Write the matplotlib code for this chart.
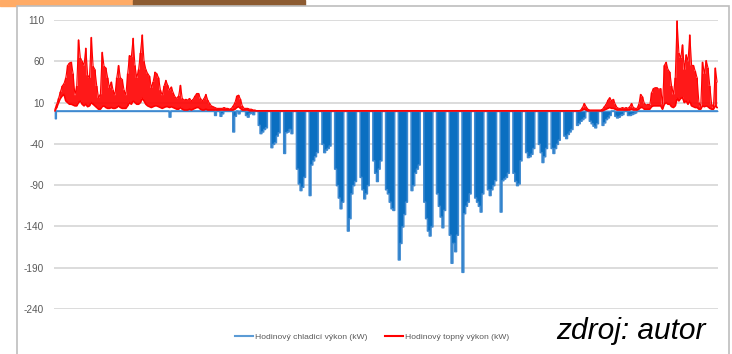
import numpy as np
import matplotlib.pyplot as plt
from matplotlib.patches import Rectangle
from matplotlib.lines import Line2D

plt.rcParams['axes.unicode_minus'] = False

# Hourly loads summarised per day (Mon-Sun rows, year starts on Monday).
# cooling = daily peak of cooling power (kW, negative), weekends are off
cooling_weeks = [
    [-9, 0, 0, 0, 0, 0, 0], [0, 0, 0, 0, 0, 0, 0], [0, 0, 0, 0, 0, 0, 0],
    [0, 0, 0, 0, 0, 0, 0], [0, 0, 0, 0, 0, 0, 0], [0, 0, 0, 0, 0, 0, 0],
    [0, 0, 0, 0, 0, 0, 0], [0, 0, 0, 0, 0, 0, 0], [0, 0, 0, 0, 0, 0, 0],
    [-7, 0, 0, 0, 0, 0, 0], [0, 0, 0, 0, 0, 0, 0], [0, 0, 0, 0, 0, 0, 0],
    [0, 0, 0, 0, -5, 0, 0], [-6, -3, 0, 0, 0, 0, 0], [-25, -6, 0, -3, 0, 0, 0],
    [-5, -7, -3, -2, -4, 0, 0], [-17, -27, -25, -22, -20, 0, 0],
    [-44, -40, -38, -30, -26, 0, 0], [-51, -26, -25, -22, -27, 0, 0],
    [-70, -88, -96, -92, -80, 0, 0], [-102, -65, -60, -55, -50, 0, 0],
    [-40, -50, -47, -45, -42, 0, 0], [-70, -90, -105, -118, -110, 0, 0],
    [-145, -130, -100, -90, -85, 0, 0], [-80, -95, -106, -100, -90, 0, 0],
    [-60, -75, -85, -70, -60, 0, 0], [-95, -100, -110, -118, -120, 0, 0],
    [-180, -160, -140, -125, -110, 0, 0], [-96, -90, -75, -70, -65, 0, 0],
    [-110, -130, -145, -151, -140, 0, 0], [-100, -115, -128, -141, -120, 0, 0],
    [-150, -184, -160, -170, -150, 0, 0], [-195, -124, -115, -110, -100, 0, 0],
    [-105, -110, -115, -122, -100, 0, 0], [-95, -102, -95, -90, -84, 0, 0],
    [-122, -84, -82, -80, -75, 0, 0], [-75, -85, -90, -88, -60, 0, 0],
    [-50, -56, -55, -52, -45, 0, 0], [-40, -50, -62, -55, -45, 0, 0],
    [-45, -51, -45, -40, -35, 0, 0], [-30, -33, -28, -25, -22, 0, 0],
    [-17, -15, -12, -10, -8, 0, 0], [-12, -15, -18, -20, -15, 0, 0],
    [-17, -14, -10, -8, -5, 0, 0], [-6, -8, -7, -5, -4, 0, 0],
    [-5, -5, -4, -3, -2, 0, 0], [0, 0, 0, 0, 0, 0, 0], [0, 0, 0, 0, 0, 0, 0],
    [0, 0, 0, 0, 0, 0, 0], [0, 0, 0, 0, 0, 0, 0], [0, 0, 0, 0, 0, 0, 0],
    [0, 0, 0, 0, 0, 0, 0], [0],
]

# heating: daily maximum and minimum of hourly heating power (kW)
heat_max_weeks = [
    [2, 8, 15, 23, 30, 33, 40], [55, 58, 59, 45, 19, 30, 86],
    [64, 60, 55, 76, 43, 40, 89], [54, 50, 30, 16, 20, 71, 54],
    [52, 40, 28, 35, 25, 19, 40], [55, 40, 38, 25, 19, 45, 67],
    [65, 88, 55, 40, 50, 70, 92], [60, 50, 45, 42, 28, 35, 47],
    [45, 40, 25, 19, 30, 37, 31], [25, 29, 22, 17, 15, 18, 31],
    [15, 13, 14, 13, 15, 12, 14], [18, 21, 21, 15, 12, 15, 20],
    [13, 9, 6, 5, 4, 3, 3], [3, 3, 4, 3, 3, 2, 3],
    [6, 10, 18, 19, 14, 6, 3], [3, 3, 2, 2, 1, 1, 0],
] + [[0] * 7] * 25 + [
    [0, 0, 1, 4, 9, 5, 2], [1, 1, 1, 1, 1, 1, 1],
    [2, 5, 8, 13, 16, 12, 14], [8, 4, 3, 3, 4, 3, 4],
    [3, 5, 9, 4, 3, 3, 8], [20, 17, 9, 7, 8, 7, 22],
    [27, 28, 28, 26, 27, 8, 55], [59, 50, 47, 30, 20, 40, 109],
    [70, 64, 80, 50, 68, 60, 92], [55, 55, 48, 40, 10, 5, 59],
    [45, 61, 52, 30, 8, 4, 52], [35],
]
heat_min_weeks = [
    [0, 4, 10, 15, 18, 20, 12], [10, 8, 8, 7, 6, 6, 10],
    [12, 8, 6, 8, 5, 6, 10], [8, 6, 4, 2, 2, 5, 6],
    [4, 3, 3, 4, 3, 3, 4], [6, 4, 3, 3, 3, 6, 10],
    [8, 12, 10, 8, 8, 10, 15], [12, 8, 6, 5, 4, 5, 6],
    [6, 5, 4, 3, 4, 5, 5], [4, 5, 4, 3, 2, 2, 4],
    [2, 1, 1, 1, 2, 1, 2], [3, 4, 4, 2, 1, 1, 2],
    [1, 1, 1, 1, 1, 1, 1], [1, 1, 1, 1, 1, 1, 1],
    [1, 2, 4, 5, 3, 1, 1], [1, 1, 0, 0, 0, 0, 0],
] + [[0] * 7] * 25 + [
    [0, 0, 0, 1, 2, 1, 0], [0, 0, 0, 0, 0, 0, 0],
    [0, 1, 2, 3, 4, 3, 3], [2, 1, 1, 1, 1, 1, 1],
    [1, 1, 2, 1, 1, 1, 2], [4, 4, 2, 2, 2, 2, 5],
    [6, 6, 6, 6, 6, 2, 8], [10, 8, 8, 5, 4, 6, 15],
    [12, 15, 16, 10, 12, 8, 12], [6, 5, 4, 4, 2, 2, 6],
    [5, 6, 5, 3, 2, 2, 6], [4],
]

yticks = [110, 60, 10, -40, -90, -140, -190, -240]
label_cool = "Hodinový chladicí výkon (kW)"
label_heat = "Hodinový topný výkon (kW)"

cooling = np.array(sum(cooling_weeks, []), dtype=float)
heat_max = np.array(sum(heat_max_weeks, []), dtype=float)
heat_min = np.array(sum(heat_min_weeks, []), dtype=float)
days = np.arange(len(cooling)) + 0.5

font = ['Liberation Sans', 'DejaVu Sans']
blue = '#0b6fc1'
red = '#ff0000'

W, H = 732, 354
fig = plt.figure(figsize=(W / 100, H / 100), dpi=100)

# slide decoration and chart frame
fig.patches.append(Rectangle((0, 1 - 6 / H), 133 / W, 6 / H, transform=fig.transFigure,
                             color='#ffab66', zorder=0))
fig.patches.append(Rectangle((133 / W, 1 - 6 / H), 172 / W, 6 / H, transform=fig.transFigure,
                             color='#8c5b31', zorder=0))
fig.patches.append(Rectangle((17 / W, -0.01), 712 / W, 1.01 - 6 / H, transform=fig.transFigure,
                             facecolor='white', edgecolor='#bdbdbd', lw=1.2, zorder=1))

ax = fig.add_axes([54 / W, 45 / H, 664 / W, 289 / H])
ax.set_zorder(2)
ax.patch.set_alpha(0)
ax.set_xlim(0, len(days))
ax.set_ylim(-240, 110)
ax.set_yticks(yticks)
ax.set_xticks([])
ax.yaxis.grid(True, color='#d9d9d9', lw=1.3)
ax.set_axisbelow(True)
for s in ax.spines.values():
    s.set_visible(False)
ax.tick_params(axis='y', length=0, pad=7, labelsize=7.2, labelcolor='#595959')
for t in ax.get_yticklabels():
    t.set_family(font)

# cooling: filled daily columns with the zero line as upper edge
ax.fill_between(days, cooling, 0, step='mid', facecolor=blue, edgecolor='#3f8ad0', lw=1.1)
# heating band and its upper envelope
ax.fill_between(days, heat_min, heat_max, step='mid', facecolor=red, edgecolor='none', alpha=0.9)
ax.plot(days, heat_max, color=red, lw=0.8)
ax.plot(days, heat_min, color=red, lw=1.2)

handles = [Line2D([], [], color='#5b9bd5', lw=1.5), Line2D([], [], color=red, lw=1.5)]
leg = fig.legend(handles, [label_cool, label_heat], loc='center', bbox_to_anchor=(372 / W, 1 - 337 / H),
                 ncol=2, frameon=False, handlelength=2.2, handletextpad=0.2, columnspacing=2.0,
                 prop={'family': font, 'size': 6.1})
for t in leg.get_texts():
    t.set_color('#595959')

fig.text(631 / W, 1 - 331 / H, "zdroj: autor", ha='center', va='center', fontsize=21.5,
         style='italic', family=font, color='black')

fig.savefig('out.png', dpi=100)
